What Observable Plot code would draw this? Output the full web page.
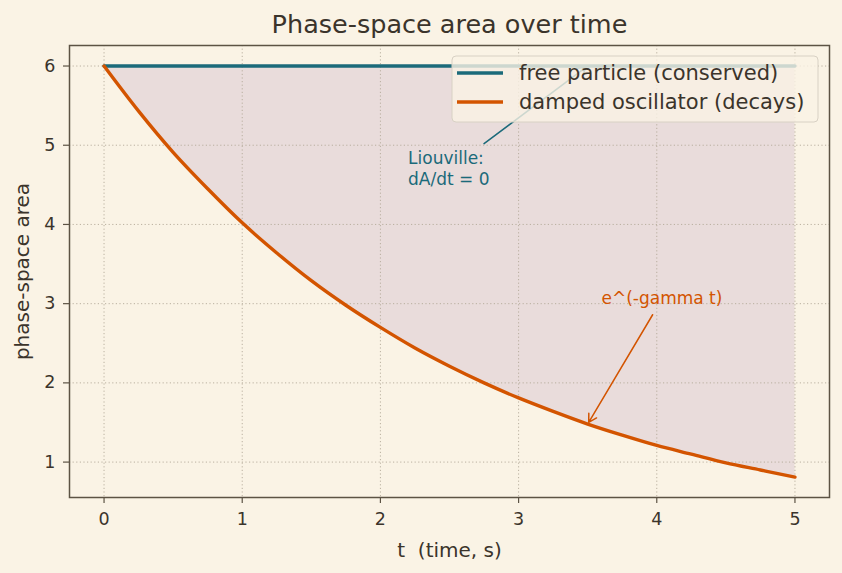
<!DOCTYPE html>
<html>
<head>
<meta charset="utf-8">
<script src="https://cdn.jsdelivr.net/npm/d3@7"></script>
<script src="https://cdn.jsdelivr.net/npm/@observablehq/plot@0.6"></script>
<style>
  html, body { margin: 0; padding: 0; background: #faf3e5; }
  #chart { width: 842px; height: 573px; }
</style>
</head>
<body>
<div id="chart"></div>
<script>
// ---- data ----
const times = [0, 0.25, 0.5, 0.75, 1, 1.25, 1.5, 1.75, 2, 2.25, 2.5, 2.75, 3, 3.25, 3.5, 3.75, 4, 4.25, 4.5, 4.75, 5];
const dampedArea = [6.00, 5.43, 4.91, 4.45, 4.02, 3.64, 3.29, 2.98, 2.70, 2.44, 2.21, 2.00, 1.81, 1.64, 1.48, 1.34, 1.21, 1.10, 0.99, 0.90, 0.81];
const freeArea = [6, 6, 6, 6, 6, 6, 6, 6, 6, 6, 6, 6, 6, 6, 6, 6, 6, 6, 6, 6, 6];
const xTicks = [0, 1, 2, 3, 4, 5];
const yTicks = [1, 2, 3, 4, 5, 6];
const seriesNames = ["free particle (conserved)", "damped oscillator (decays)"];
const titleText = "Phase-space area over time";
const xLabel = "t  (time, s)";
const yLabel = "phase-space area";
// annotations: text anchor point and arrow (start -> target) in data units
const noteLiouville = {text: "Liouville:\ndA/dt = 0", x: 2.2, y: 4.5, x1: 2.75, y1: 5.02, x2: 3.5, y2: 6.0};
const noteDecay = {text: "e^(-gamma t)", x: 3.6, y: 3.0, x1: 3.97, y1: 2.86, x2: 3.5, y2: 1.48};

// ---- style ----
const BG = "#faf3e5";
const INK = "#3b342b";
const FRAME = "#5c5344";
const TEAL = "#1b6a7a";
const ORANGE = "#d35400";
const FILL = "#e9dcdb";
const GRID = "#b3a999";

const chart = Plot.plot({
  width: 842,
  height: 573,
  marginLeft: 69,
  marginRight: 13,
  marginTop: 45,
  marginBottom: 76,
  style: {background: BG, color: INK, fontFamily: "DejaVu Sans", fontSize: "17px"},
  x: {domain: [-0.25, 5.25]},
  y: {domain: [0.553, 6.259]},
  marks: [
    Plot.areaY(times, {x: times, y1: dampedArea, y2: freeArea, fill: FILL, curve: "monotone-x"}),
    Plot.gridX(xTicks, {stroke: GRID, strokeOpacity: 1, strokeWidth: 0.9, strokeDasharray: "1.2,2.4"}),
    Plot.gridY(yTicks, {stroke: GRID, strokeOpacity: 1, strokeWidth: 0.9, strokeDasharray: "1.2,2.4"}),
    Plot.line(times, {x: times, y: freeArea, stroke: TEAL, strokeWidth: 3.4}),
    Plot.line(times, {x: times, y: dampedArea, stroke: ORANGE, strokeWidth: 3.4, curve: "monotone-x"}),
    Plot.arrow([noteLiouville], {x1: "x1", y1: "y1", x2: "x2", y2: "y2", stroke: TEAL, strokeWidth: 1.5, headLength: 9, insetEnd: 2}),
    Plot.arrow([noteDecay], {x1: "x1", y1: "y1", x2: "x2", y2: "y2", stroke: ORANGE, strokeWidth: 1.5, headLength: 9, insetEnd: 2}),
    Plot.text([noteLiouville], {x: "x", y: "y", text: "text", textAnchor: "start", lineAnchor: "bottom", fill: TEAL, fontSize: 17, lineHeight: 1.24}),
    Plot.text([noteDecay], {x: "x", y: "y", text: "text", textAnchor: "start", lineAnchor: "bottom", fill: ORANGE, fontSize: 17}),
    Plot.frame({stroke: FRAME, strokeWidth: 1.5}),
    Plot.axisX(xTicks, {tickSize: 6, tickPadding: 9, stroke: FRAME, strokeWidth: 1.2, fontSize: 17.5, tickFormat: d => String(d), label: null}),
    Plot.axisY(yTicks, {tickSize: 6, tickPadding: 8, stroke: FRAME, strokeWidth: 1.2, fontSize: 17.5, tickFormat: d => String(d), label: null}),
    Plot.text([xLabel], {frameAnchor: "bottom", dy: 53, lineAnchor: "middle", fontSize: 20, fill: INK}),
    Plot.text([yLabel], {frameAnchor: "left", dx: -47, rotate: -90, textAnchor: "middle", lineAnchor: "middle", fontSize: 20, fill: INK}),
    Plot.text([titleText], {frameAnchor: "top", dy: -21, lineAnchor: "middle", fontSize: 25.5, fill: INK})
  ]
});

// legend (drawn over the plot, semi-opaque like the original)
const svg = d3.select(chart);
const lg = svg.append("g").attr("class", "legend").attr("text-anchor", "start");
lg.append("rect").attr("x", 452).attr("y", 56).attr("width", 366).attr("height", 66).attr("rx", 4)
  .attr("fill", BG).attr("fill-opacity", 0.8).attr("stroke", "#d8d1c4").attr("stroke-width", 1);
const legendColors = [TEAL, ORANGE];
seriesNames.forEach((name, i) => {
  const cy = 73 + i * 29;
  lg.append("line").attr("x1", 457).attr("x2", 503).attr("y1", cy).attr("y2", cy)
    .attr("stroke", legendColors[i]).attr("stroke-width", 3.4);
  lg.append("text").attr("x", 519).attr("y", cy).attr("dy", "0.35em").attr("text-anchor", "start")
    .attr("font-size", 21).attr("fill", INK).attr("font-family", "DejaVu Sans").text(name);
});

document.getElementById("chart").appendChild(chart);
</script>
</body>
</html>
